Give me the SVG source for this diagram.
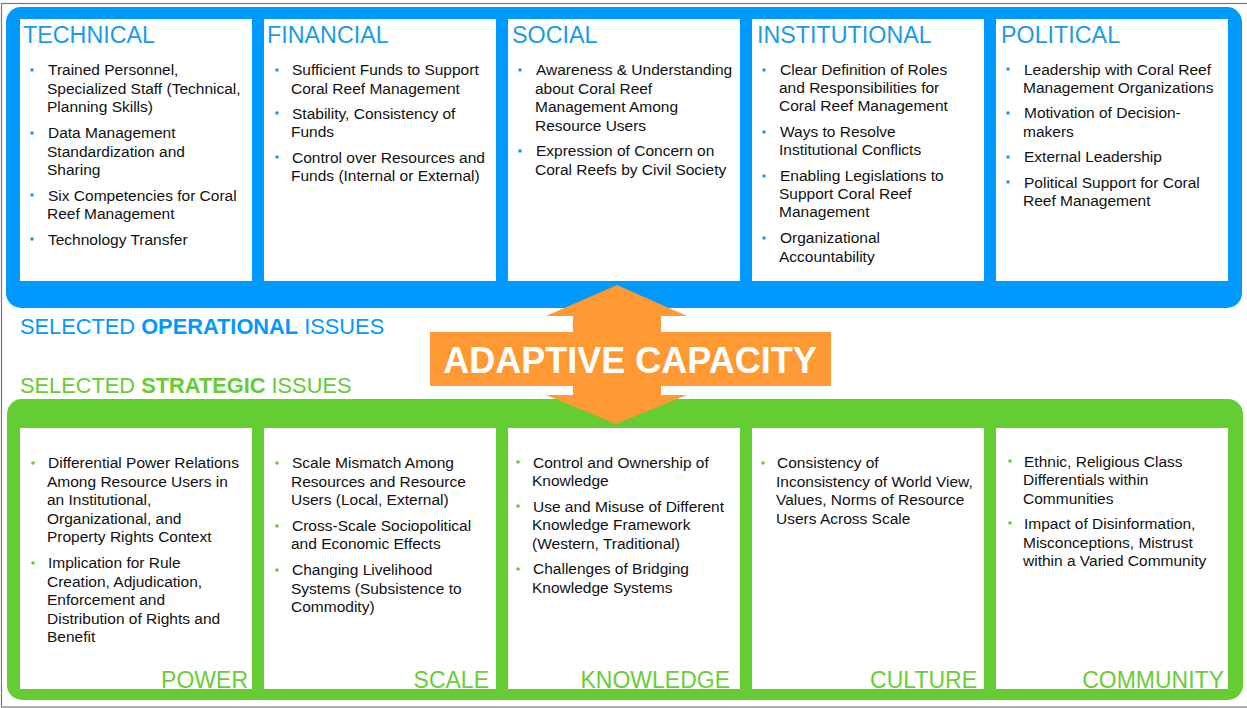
<svg xmlns="http://www.w3.org/2000/svg" width="1247" height="708" viewBox="0 0 1247 708">
<style>
text{font-family:"Liberation Sans",Arial,sans-serif}
.hd{font-size:23.3px;fill:#1a9be8}
.gl{font-size:23px;fill:#6bcb3a}
.tx{font-size:15.5px;fill:#111111}
.cell{fill:#ffffff}
.bb{fill:#1a9be8}
.bg{fill:#66cc33}
.sel{font-size:21.8px}
</style>
<rect x="1.5" y="3.5" width="1260" height="703.5" fill="#ffffff" stroke="#777777" stroke-width="1.2"/>
<g id="operational-panel">
<rect x="6" y="7" width="1236" height="301" rx="15" fill="#0099ff"/>
</g>
<g id="strategic-panel">
<rect x="7" y="399" width="1236" height="301" rx="15" fill="#66cc33"/>
</g>
<g id="technical">
<rect class="cell" x="20" y="19" width="232" height="262"/>
<text class="hd" x="23" y="43">TECHNICAL</text>
<circle class="bb" cx="32" cy="70" r="1.8"/><circle class="bb" cx="32" cy="133" r="1.8"/><circle class="bb" cx="32" cy="195" r="1.8"/><circle class="bb" cx="32" cy="239" r="1.8"/>
<text class="tx" x="48" y="75">Trained Personnel,</text>
<text class="tx" x="47" y="93.5">Specialized Staff (Technical,</text>
<text class="tx" x="47" y="112">Planning Skills)</text>
<text class="tx" x="48" y="138">Data Management</text>
<text class="tx" x="47" y="156.5">Standardization and</text>
<text class="tx" x="47" y="175">Sharing</text>
<text class="tx" x="48" y="200.5">Six Competencies for Coral</text>
<text class="tx" x="47" y="219">Reef Management</text>
<text class="tx" x="48" y="244.5">Technology Transfer</text>
</g>
<g id="financial">
<rect class="cell" x="264" y="19" width="232" height="262"/>
<text class="hd" x="267" y="43">FINANCIAL</text>
<circle class="bb" cx="277" cy="70" r="1.8"/><circle class="bb" cx="277" cy="113" r="1.8"/><circle class="bb" cx="277" cy="157" r="1.8"/>
<text class="tx" x="292" y="75">Sufficient Funds to Support</text>
<text class="tx" x="291" y="93.5">Coral Reef Management</text>
<text class="tx" x="292" y="118.5">Stability, Consistency of</text>
<text class="tx" x="291" y="137">Funds</text>
<text class="tx" x="292" y="162.5">Control over Resources and</text>
<text class="tx" x="291" y="181">Funds (Internal or External)</text>
</g>
<g id="social">
<rect class="cell" x="508" y="19" width="232" height="262"/>
<text class="hd" x="512" y="43">SOCIAL</text>
<circle class="bb" cx="520" cy="70" r="1.8"/><circle class="bb" cx="520" cy="151" r="1.8"/>
<text class="tx" x="536" y="75">Awareness &amp; Understanding</text>
<text class="tx" x="535" y="93.5">about Coral Reef</text>
<text class="tx" x="535" y="112">Management Among</text>
<text class="tx" x="535" y="130.5">Resource Users</text>
<text class="tx" x="536" y="156">Expression of Concern on</text>
<text class="tx" x="535" y="174.5">Coral Reefs by Civil Society</text>
</g>
<g id="institutional">
<rect class="cell" x="752" y="19" width="232" height="262"/>
<text class="hd" x="757" y="43">INSTITUTIONAL</text>
<circle class="bb" cx="764" cy="70" r="1.8"/><circle class="bb" cx="764" cy="132" r="1.8"/><circle class="bb" cx="764" cy="176" r="1.8"/><circle class="bb" cx="764" cy="238" r="1.8"/>
<text class="tx" x="780" y="75">Clear Definition of Roles</text>
<text class="tx" x="779" y="93">and Responsibilities for</text>
<text class="tx" x="779" y="111">Coral Reef Management</text>
<text class="tx" x="780" y="137">Ways to Resolve</text>
<text class="tx" x="779" y="155">Institutional Conflicts</text>
<text class="tx" x="780" y="181">Enabling Legislations to</text>
<text class="tx" x="779" y="199">Support Coral Reef</text>
<text class="tx" x="779" y="217">Management</text>
<text class="tx" x="780" y="243">Organizational</text>
<text class="tx" x="779" y="261.5">Accountability</text>
</g>
<g id="political">
<rect class="cell" x="996" y="19" width="232" height="262"/>
<text class="hd" x="1001" y="43">POLITICAL</text>
<circle class="bb" cx="1008" cy="69" r="1.8"/><circle class="bb" cx="1008" cy="113" r="1.8"/><circle class="bb" cx="1008" cy="157" r="1.8"/><circle class="bb" cx="1008" cy="182" r="1.8"/>
<text class="tx" x="1024" y="74.5">Leadership with Coral Reef</text>
<text class="tx" x="1023" y="93">Management Organizations</text>
<text class="tx" x="1024" y="118">Motivation of Decision-</text>
<text class="tx" x="1023" y="136.5">makers</text>
<text class="tx" x="1024" y="162">External Leadership</text>
<text class="tx" x="1024" y="187.5">Political Support for Coral</text>
<text class="tx" x="1023" y="206">Reef Management</text>
</g>
<g id="labels">
<text class="sel" x="20" y="334" fill="#0099ff">SELECTED <tspan font-weight="bold">OPERATIONAL</tspan> ISSUES</text>
<text class="sel" x="20" y="393" fill="#66cc33">SELECTED <tspan font-weight="bold">STRATEGIC</tspan> ISSUES</text>
</g>
<g id="power">
<rect class="cell" x="20" y="428" width="232" height="261"/>
<circle class="bg" cx="33" cy="463" r="1.8"/><circle class="bg" cx="33" cy="563" r="1.8"/>
<text class="tx" x="48" y="468">Differential Power Relations</text>
<text class="tx" x="47" y="486.5">Among Resource Users in</text>
<text class="tx" x="47" y="505">an Institutional,</text>
<text class="tx" x="47" y="523.5">Organizational, and</text>
<text class="tx" x="47" y="542">Property Rights Context</text>
<text class="tx" x="48" y="568">Implication for Rule</text>
<text class="tx" x="47" y="586.5">Creation, Adjudication,</text>
<text class="tx" x="47" y="605">Enforcement and</text>
<text class="tx" x="47" y="623.5">Distribution of Rights and</text>
<text class="tx" x="47" y="642">Benefit</text>
<text class="gl" x="248" y="688" text-anchor="end">POWER</text>
</g>
<g id="scale">
<rect class="cell" x="264" y="428" width="232" height="261"/>
<circle class="bg" cx="277" cy="463" r="1.8"/><circle class="bg" cx="277" cy="526" r="1.8"/><circle class="bg" cx="277" cy="570" r="1.8"/>
<text class="tx" x="292" y="468">Scale Mismatch Among</text>
<text class="tx" x="291" y="486.5">Resources and Resource</text>
<text class="tx" x="291" y="505">Users (Local, External)</text>
<text class="tx" x="292" y="530.5">Cross-Scale Sociopolitical</text>
<text class="tx" x="291" y="549">and Economic Effects</text>
<text class="tx" x="292" y="575">Changing Livelihood</text>
<text class="tx" x="291" y="593.5">Systems (Subsistence to</text>
<text class="tx" x="291" y="612">Commodity)</text>
<text class="gl" x="489" y="688" text-anchor="end">SCALE</text>
</g>
<g id="knowledge">
<rect class="cell" x="508" y="428" width="232" height="261"/>
<circle class="bg" cx="518" cy="462" r="1.8"/><circle class="bg" cx="518" cy="506" r="1.8"/><circle class="bg" cx="518" cy="569" r="1.8"/>
<text class="tx" x="533" y="467.5">Control and Ownership of</text>
<text class="tx" x="532" y="486">Knowledge</text>
<text class="tx" x="533" y="511.5">Use and Misuse of Different</text>
<text class="tx" x="532" y="530">Knowledge Framework</text>
<text class="tx" x="532" y="548.5">(Western, Traditional)</text>
<text class="tx" x="533" y="574">Challenges of Bridging</text>
<text class="tx" x="532" y="592.5">Knowledge Systems</text>
<text class="gl" x="730" y="688" text-anchor="end">KNOWLEDGE</text>
</g>
<g id="culture">
<rect class="cell" x="752" y="428" width="232" height="261"/>
<circle class="bg" cx="763" cy="463" r="1.8"/>
<text class="tx" x="777" y="468">Consistency of</text>
<text class="tx" x="776" y="486.5">Inconsistency of World View,</text>
<text class="tx" x="776" y="505">Values, Norms of Resource</text>
<text class="tx" x="776" y="523.5">Users Across Scale</text>
<text class="gl" x="977" y="688" text-anchor="end">CULTURE</text>
</g>
<g id="community">
<rect class="cell" x="996" y="428" width="232" height="261"/>
<circle class="bg" cx="1010" cy="461" r="1.8"/><circle class="bg" cx="1010" cy="523" r="1.8"/>
<text class="tx" x="1024" y="466.5">Ethnic, Religious Class</text>
<text class="tx" x="1023" y="485">Differentials within</text>
<text class="tx" x="1023" y="503.5">Communities</text>
<text class="tx" x="1024" y="529">Impact of Disinformation,</text>
<text class="tx" x="1023" y="547.5">Misconceptions, Mistrust</text>
<text class="tx" x="1023" y="566">within a Varied Community</text>
<text class="gl" x="1224" y="688" text-anchor="end">COMMUNITY</text>
</g>
<g id="connectors">
<polygon fill="#ff9933" points="617,285 687,316 661,316 661,395 687,395 616,424 546,395 573,395 573,316 546,316"/>
</g>
<g id="adaptive-capacity">
<rect x="430" y="332" width="401" height="54" fill="#ff9933"/>
<text x="630" y="373" text-anchor="middle" font-size="36" font-weight="bold" fill="#ffffff">ADAPTIVE CAPACITY</text>
</g>
</svg>
